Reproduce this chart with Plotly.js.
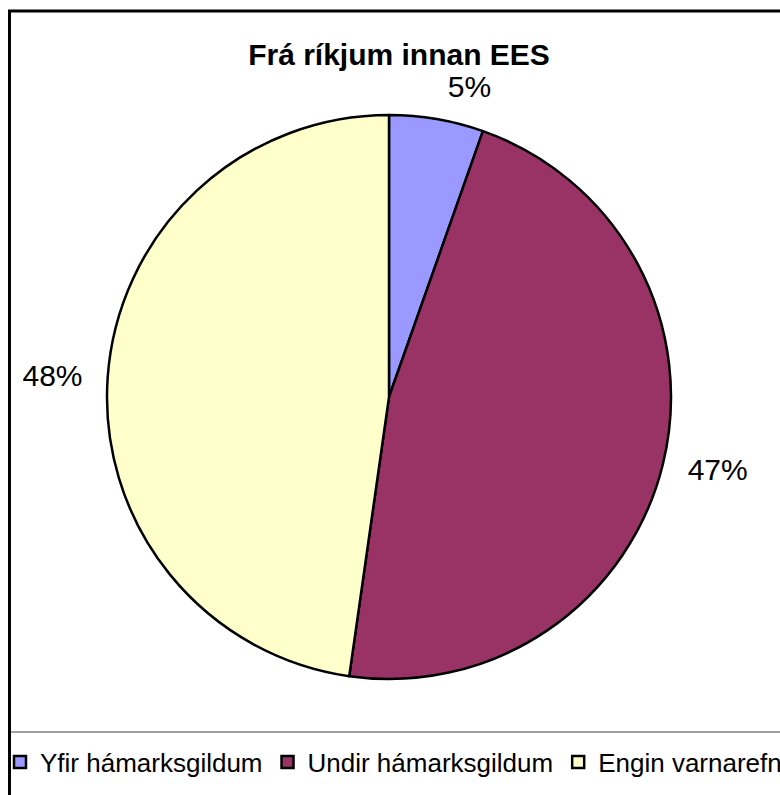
<!DOCTYPE html>
<html>
<head>
<meta charset="utf-8">
<script src="https://cdn.plot.ly/plotly-3.0.1.min.js"></script>
<style>
html,body{margin:0;padding:0;overflow:hidden;background:#fff;}
#chart{width:900px;height:795px;}
</style>
</head>
<body>
<div id="chart"></div>
<script>
const chartTitle = "Frá ríkjum innan EES";
const categories = ["Yfir hámarksgildum", "Undir hámarksgildum", "Engin varnarefni"];
const values = [6, 52, 53];
const sliceColors = ["#9999FF", "#993366", "#FFFFCC"];

const W = 900, H = 795;
const cx = 389, cy = 397, r = 282, rLabel = 299;
const font = "Arial, 'Liberation Sans', sans-serif";

function dom(rad) {
  return {
    x: [(cx - rad) / W, (cx + rad) / W],
    y: [1 - (cy + rad) / H, 1 - (cy - rad) / H]
  };
}

// visible pie (slices + legend)
const pieTrace = {
  type: "pie",
  labels: categories,
  values: values,
  sort: false,
  direction: "clockwise",
  rotation: 0,
  marker: {colors: sliceColors, line: {color: "#000000", width: 2.5}},
  textinfo: "none",
  hoverinfo: "label+percent",
  domain: dom(r),
  showlegend: true
};

// transparent companion pie carrying the percentage labels slightly further out
const labelTrace = {
  type: "pie",
  labels: categories,
  values: values,
  sort: false,
  direction: "clockwise",
  rotation: 0,
  marker: {colors: ["rgba(0,0,0,0)", "rgba(0,0,0,0)", "rgba(0,0,0,0)"], line: {width: 0}},
  textposition: "outside",
  texttemplate: "%{percent:.0%}",
  outsidetextfont: {family: font, size: 30, color: "#000000"},
  hoverinfo: "skip",
  domain: dom(rLabel),
  showlegend: false
};

const layout = {
  width: W,
  height: H,
  margin: {l: 0, r: 0, t: 0, b: 0, autoexpand: false},
  paper_bgcolor: "#ffffff",
  plot_bgcolor: "#ffffff",
  font: {family: font, color: "#000000"},
  title: {
    text: "<b>" + chartTitle + "</b>",
    font: {family: font, size: 30, color: "#000000"},
    x: 399 / W, xanchor: "center", xref: "container",
    y: 1 - 54 / H, yanchor: "middle", yref: "container"
  },
  legend: {
    orientation: "h",
    x: 0, xanchor: "left",
    y: 1 - 762 / H, yanchor: "middle",
    font: {family: font, size: 26, color: "#000000"},
    bgcolor: "rgba(0,0,0,0)",
    traceorder: "normal"
  },
  shapes: [
    {type: "rect", xref: "paper", yref: "paper",
     x0: 9.5 / W, x1: 1.05, y0: -0.05, y1: 1 - 11 / H,
     line: {color: "#000000", width: 3}, fillcolor: "rgba(0,0,0,0)"},
    {type: "line", xref: "paper", yref: "paper",
     x0: 11 / W, x1: 1.05, y0: 1 - 732 / H, y1: 1 - 732 / H,
     line: {color: "#404040", width: 1}}
  ]
};

Plotly.newPlot("chart", [pieTrace, labelTrace], layout, {displayModeBar: false, staticPlot: true});
</script>
</body>
</html>
